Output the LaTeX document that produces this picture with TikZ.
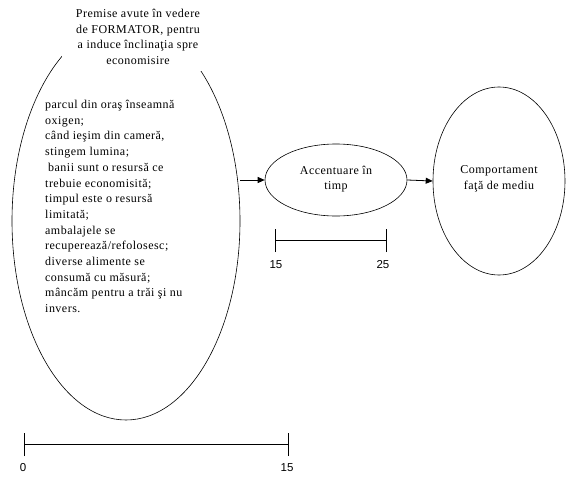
\documentclass[tikz,border=0pt]{standalone}
\usepackage{fontspec}
\setmainfont{Liberation Serif}[LetterSpace=4]
\newfontfamily\numfont{Liberation Sans}
\usetikzlibrary{shapes.geometric,arrows.meta}
\begin{document}
\begin{tikzpicture}[x=1pt,y=-1pt,
  oval/.style={draw,ellipse,inner sep=0pt,line width=0.6pt},
  conn/.style={line width=0.8pt,-{Triangle[length=7pt,width=6pt]}},
  bar/.style={line width=0.8pt},
  num/.style={font=\numfont\fontsize{11.5}{13}\selectfont,inner sep=0pt},
  txt/.style={font=\fontsize{12}{15.7}\selectfont,inner sep=1pt}]
\useasboundingbox (0,0) rectangle (566,493);
\node[oval,minimum width=228pt,minimum height=398pt] (big) at (126,221) {};
\node[oval,minimum width=142pt,minimum height=72pt] (acc) at (336,180) {};
\node[oval,minimum width=132pt,minimum height=188pt] (comp) at (499,181) {};
\fill[white] (62,0) rectangle (215,71);
\node[txt,align=center,anchor=north] (title) at (138,8)
  {Premise avute în vedere\\de FORMATOR, pentru\\a induce înclinaţia spre\\economisire};
\node[txt,align=left,anchor=north west] (body) at (44,99)
  {parcul din oraş înseamnă\\oxigen;\\când ieşim din cameră,\\stingem lumina;\\\hspace*{3pt}banii sunt o resursă ce\\trebuie economisită;\\timpul este o resursă\\limitată;\\ambalajele se\\recuperează/refolosesc;\\diverse alimente se\\consumă cu măsură;\\mâncăm pentru a trăi şi nu\\invers.};
\node[txt,align=center] (acct) at (336,179) {Accentuare în\\timp};
\node[txt,align=center] (compt) at (499,179) {Comportament\\faţă de mediu};
\draw[conn] (big.east |- acc.west) -- (acc.west);
\draw[conn] (acc.east) -- (comp.west);
% small scale bar
\coordinate (s1) at (275,240);
\coordinate (s2) at (386,240);
\draw[bar] (s1) -- (s2);
\draw[bar] ([yshift=-12pt]s1) -- ([yshift=11pt]s1);
\draw[bar] ([yshift=-12pt]s2) -- ([yshift=11pt]s2);
\node[num] (n15a) at (276,265) {15};
\node[num] (n25) at (383,265) {25};
% big scale bar
\coordinate (b1) at (24,444);
\coordinate (b2) at (288,444);
\draw[bar] (b1) -- (b2);
\draw[bar] ([yshift=-12pt]b1) -- ([yshift=11pt]b1);
\draw[bar] ([yshift=-12pt]b2) -- ([yshift=11pt]b2);
\node[num] (n0) at (23,468) {0};
\node[num] (n15b) at (287,468) {15};
\end{tikzpicture}
\end{document}
